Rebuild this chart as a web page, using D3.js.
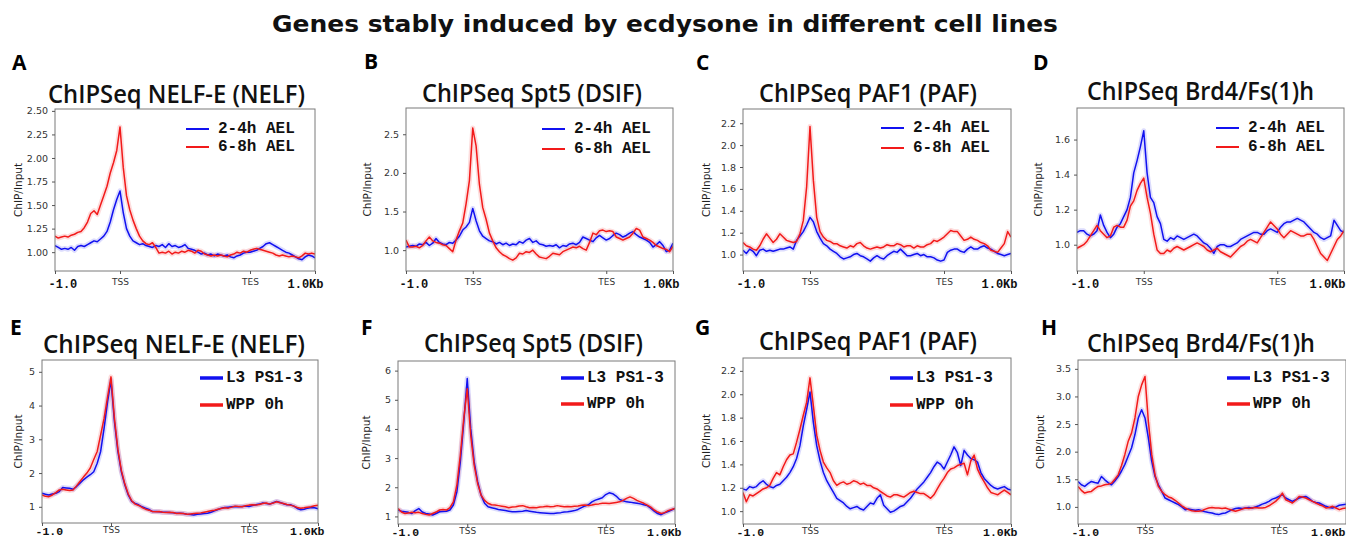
<!DOCTYPE html>
<html><head><meta charset="utf-8">
<script src="https://cdn.jsdelivr.net/npm/d3@7"></script>
<style>body{margin:0;background:#fff}svg{display:block}</style>
</head><body><svg id="c" width="1346" height="541"></svg>
<script>
// ---------------- DATA ----------------
const mainTitle = "Genes stably induced by ecdysone in different cell lines";
const panelLetters = ["A","B","C","D","E","F","G","H"];
const panelTitles = ["ChIPSeq NELF-E (NELF)","ChIPSeq Spt5 (DSIF)","ChIPSeq PAF1 (PAF)","ChIPSeq Brd4/Fs(1)h",
                     "ChIPSeq NELF-E (NELF)","ChIPSeq Spt5 (DSIF)","ChIPSeq PAF1 (PAF)","ChIPSeq Brd4/Fs(1)h"];
const yLabel = "ChIP/Input";
const xTickLabels = ["-1.0","TSS","TES","1.0Kb"];
const xTickPos = [0,1,3,4];          // upstream | scaled gene body | downstream
const binStep = 0.05;                // 81 bins over [0,4]
const legendEmbryo = ["2-4h AEL","6-8h AEL"];
const legendLarva  = ["L3 PS1-3","WPP 0h"];

const yTicksA = [1.00,1.25,1.50,1.75,2.00,2.25,2.50];
const yTicksB = [1.0,1.5,2.0,2.5];
const yTicksC = [1.0,1.2,1.4,1.6,1.8,2.0,2.2];
const yTicksD = [1.0,1.2,1.4,1.6];
const yTicksE = [1,2,3,4,5];
const yTicksF = [1,2,3,4,5,6];
const yTicksG = [1.0,1.2,1.4,1.6,1.8,2.0,2.2];
const yTicksH = [1.0,1.5,2.0,2.5,3.0,3.5];
const yRangeA = [0.80,2.52], yRangeB = [0.73,2.84], yRangeC = [0.85,2.33], yRangeD = [0.85,1.78];
const yRangeE = [0.52,5.35], yRangeF = [0.74,6.33], yRangeG = [0.89,2.31], yRangeH = [0.69,3.66];

// NELF-E embryo
const nelfE_2_4h = [1.07,1.05,1.03,1.04,1.03,1.05,1.02,1.06,1.07,1.06,
 1.08,1.10,1.12,1.11,1.14,1.17,1.22,1.32,1.45,1.56,
 1.65,1.42,1.25,1.17,1.12,1.10,1.08,1.09,1.07,1.06,
 1.05,1.07,1.06,1.08,1.05,1.09,1.06,1.07,1.05,1.06,
 1.08,1.04,1.03,1.02,1.00,0.98,0.99,0.97,0.98,0.96,
 0.98,0.97,0.96,0.97,0.95,0.94,0.96,0.97,0.99,1.00,
 1.00,1.01,1.02,1.04,1.06,1.09,1.10,1.08,1.06,1.04,
 1.02,1.00,0.99,0.97,0.95,0.93,0.92,0.95,0.97,0.96,0.94];
const nelfE_6_8h = [1.17,1.15,1.16,1.17,1.16,1.18,1.19,1.21,1.22,1.26,
 1.32,1.41,1.44,1.40,1.50,1.60,1.70,1.84,1.95,2.08,
 2.33,1.90,1.60,1.45,1.34,1.25,1.17,1.12,1.09,1.08,
 1.10,1.05,0.99,1.00,0.99,1.01,0.98,1.00,0.99,1.01,
 1.00,1.02,1.01,0.99,1.02,1.01,0.98,0.97,0.96,0.97,
 0.96,0.97,0.96,0.95,0.97,0.98,1.00,0.99,1.01,1.00,
 1.02,1.03,1.04,1.03,1.02,1.01,1.00,0.99,0.97,0.96,
 0.97,0.96,0.95,0.96,0.95,0.94,0.96,0.99,0.98,0.99,0.98];
// Spt5 embryo
const spt5_2_4h = [1.04,1.05,1.06,1.05,1.08,1.07,1.10,1.06,1.09,1.15,
 1.10,1.08,1.07,1.10,1.09,1.13,1.18,1.26,1.30,1.36,
 1.54,1.38,1.25,1.18,1.15,1.12,1.11,1.08,1.10,1.07,
 1.09,1.06,1.08,1.07,1.11,1.09,1.13,1.15,1.10,1.12,
 1.08,1.07,1.05,1.06,1.05,1.07,1.03,1.06,1.05,1.08,
 1.09,1.07,1.10,1.17,1.15,1.13,1.11,1.16,1.19,1.16,
 1.13,1.15,1.19,1.22,1.20,1.17,1.19,1.22,1.24,1.20,
 1.17,1.15,1.13,1.10,1.04,1.07,1.11,1.06,0.98,1.00,1.09];
const spt5_6_8h = [1.13,1.04,1.04,1.05,1.03,1.06,1.12,1.17,1.12,1.10,
 1.09,1.07,1.06,1.02,0.98,1.13,1.25,1.35,1.60,1.90,
 2.58,2.35,1.85,1.55,1.40,1.22,1.12,1.03,0.98,0.94,
 0.92,0.89,0.87,0.90,0.96,0.95,0.98,0.97,1.00,0.95,
 0.91,0.90,0.89,0.92,0.96,0.95,0.94,0.98,1.00,1.02,
 1.04,1.03,1.05,1.02,1.00,1.10,1.22,1.20,1.25,1.26,
 1.24,1.25,1.24,1.17,1.15,1.13,1.15,1.17,1.22,1.28,
 1.26,1.17,1.15,1.13,1.10,1.06,1.04,1.02,1.01,0.98,1.05];
// PAF1 embryo
const paf1_2_4h = [1.04,1.01,1.05,1.03,0.99,1.04,1.05,1.03,1.04,1.03,
 1.04,1.05,1.05,1.06,1.07,1.05,1.13,1.17,1.21,1.27,
 1.34,1.30,1.21,1.15,1.10,1.08,1.05,1.03,1.01,0.98,
 0.96,0.97,0.98,1.00,1.01,0.99,0.98,0.96,0.94,0.97,
 0.99,0.97,0.96,0.99,1.01,1.03,1.02,1.05,1.02,0.99,
 0.99,1.00,1.01,0.99,1.00,0.98,0.98,0.97,0.95,0.94,
 0.95,1.02,1.04,1.05,1.05,1.03,1.02,1.05,1.07,1.05,
 1.05,1.07,1.08,1.06,1.05,1.03,1.01,1.00,0.99,1.00,1.01];
const paf1_6_8h = [1.11,1.08,1.07,1.05,1.04,1.08,1.14,1.19,1.15,1.11,
 1.14,1.19,1.16,1.13,1.12,1.11,1.12,1.19,1.31,1.62,
 2.17,1.68,1.34,1.21,1.16,1.13,1.12,1.10,1.10,1.08,
 1.07,1.06,1.08,1.07,1.10,1.11,1.08,1.06,1.05,1.06,
 1.07,1.06,1.07,1.09,1.08,1.08,1.10,1.09,1.07,1.08,
 1.08,1.06,1.08,1.07,1.07,1.09,1.10,1.13,1.12,1.14,
 1.16,1.19,1.22,1.21,1.21,1.17,1.13,1.14,1.16,1.14,
 1.13,1.11,1.10,1.08,1.04,1.03,1.02,1.06,1.10,1.21,1.16];
// Brd4 embryo
const brd4_2_4h = [1.07,1.08,1.08,1.06,1.05,1.06,1.08,1.17,1.11,1.07,
 1.04,1.06,1.10,1.12,1.16,1.20,1.27,1.41,1.48,1.56,
 1.65,1.41,1.27,1.24,1.16,1.12,1.03,1.02,1.04,1.03,
 1.05,1.04,1.03,1.04,1.05,1.06,1.05,1.03,1.01,1.00,
 0.98,0.95,0.99,1.00,1.00,0.99,0.99,1.00,1.01,1.03,
 1.04,1.05,1.06,1.07,1.07,1.06,1.06,1.08,1.09,1.08,
 1.07,1.10,1.12,1.13,1.13,1.14,1.15,1.14,1.13,1.11,
 1.09,1.07,1.06,1.04,1.03,1.04,1.05,1.14,1.11,1.08,1.07];
const brd4_6_8h = [0.98,0.99,1.00,1.02,1.05,1.08,1.11,1.08,1.06,1.04,
 1.05,1.10,1.11,1.10,1.10,1.14,1.22,1.25,1.31,1.35,
 1.38,1.27,1.18,1.06,0.97,0.95,0.95,0.97,0.96,0.98,
 0.99,0.98,0.97,0.98,0.99,1.00,1.01,1.00,0.99,0.97,
 0.96,0.97,0.98,0.96,0.95,0.94,0.93,0.95,0.97,0.99,
 1.00,1.02,1.03,1.02,1.01,1.04,1.07,1.10,1.13,1.11,
 1.09,1.06,1.04,1.06,1.08,1.07,1.06,1.05,1.05,1.06,
 1.06,1.03,0.99,0.95,0.93,0.91,0.95,0.99,1.03,1.05,1.08];
// NELF-E larva
const nelfE_L3 = [1.40,1.37,1.35,1.38,1.40,1.45,1.57,1.56,1.55,1.52,
 1.60,1.70,1.80,1.88,1.95,2.04,2.29,2.64,3.33,4.11,
 4.75,3.52,2.64,2.04,1.65,1.35,1.16,1.10,1.06,1.00,
 0.96,0.92,0.86,0.86,0.85,0.84,0.84,0.83,0.82,0.81,
 0.81,0.80,0.78,0.77,0.76,0.78,0.79,0.80,0.81,0.84,
 0.88,0.92,0.96,0.98,0.99,1.00,1.01,1.00,1.01,1.02,
 1.01,1.04,1.06,1.08,1.11,1.10,1.08,1.12,1.16,1.13,
 1.09,1.06,1.06,1.02,0.95,0.91,0.93,0.96,0.98,0.97,0.94];
const nelfE_WPP = [1.35,1.31,1.30,1.35,1.42,1.50,1.52,1.50,1.48,1.50,
 1.62,1.75,1.88,2.00,2.15,2.40,2.64,3.13,3.62,4.25,
 4.85,3.62,2.70,2.08,1.68,1.38,1.18,1.08,1.04,0.98,
 0.93,0.90,0.86,0.85,0.86,0.84,0.83,0.84,0.83,0.80,
 0.81,0.80,0.78,0.79,0.80,0.81,0.82,0.84,0.86,0.88,
 0.90,0.93,0.95,0.97,0.96,0.99,1.02,1.01,1.00,1.03,
 1.05,1.06,1.05,1.07,1.10,1.11,1.08,1.11,1.15,1.12,
 1.10,1.07,1.05,1.02,0.98,0.96,0.97,0.99,1.00,1.03,1.05];
// Spt5 larva
const spt5_L3 = [1.22,1.18,1.16,1.14,1.10,1.20,1.27,1.15,1.10,1.08,
 1.05,1.10,1.16,1.17,1.18,1.22,1.39,1.84,2.87,4.24,
 5.73,4.01,2.87,2.19,1.73,1.45,1.33,1.30,1.27,1.24,
 1.22,1.20,1.18,1.16,1.16,1.17,1.18,1.20,1.18,1.16,
 1.14,1.13,1.12,1.11,1.10,1.10,1.12,1.13,1.15,1.16,
 1.18,1.20,1.24,1.30,1.36,1.40,1.50,1.56,1.60,1.64,
 1.75,1.81,1.78,1.70,1.58,1.54,1.50,1.49,1.47,1.45,
 1.43,1.40,1.37,1.28,1.18,1.10,1.06,1.12,1.17,1.22,1.27];
const spt5_WPP = [1.27,1.15,1.10,1.12,1.14,1.13,1.14,1.10,1.07,1.05,
 1.10,1.15,1.22,1.24,1.22,1.30,1.50,2.07,3.10,4.36,
 5.38,3.79,2.76,2.13,1.73,1.55,1.45,1.40,1.39,1.37,
 1.35,1.33,1.30,1.32,1.33,1.36,1.37,1.33,1.30,1.31,
 1.30,1.32,1.33,1.35,1.33,1.34,1.37,1.35,1.33,1.34,
 1.33,1.35,1.36,1.38,1.39,1.37,1.39,1.42,1.43,1.45,
 1.45,1.44,1.46,1.48,1.50,1.55,1.62,1.67,1.62,1.55,
 1.50,1.45,1.39,1.32,1.22,1.15,1.10,1.13,1.20,1.24,1.27];
// PAF1 larva
const paf1_L3 = [1.19,1.18,1.21,1.20,1.21,1.24,1.26,1.23,1.21,1.20,
 1.22,1.23,1.26,1.29,1.33,1.38,1.45,1.56,1.73,1.87,
 2.02,1.76,1.56,1.43,1.33,1.26,1.21,1.16,1.11,1.09,
 1.07,1.04,1.02,1.03,1.04,1.02,1.01,1.04,1.07,1.06,
 1.11,1.14,1.05,1.02,0.99,1.00,1.02,1.04,1.05,1.08,
 1.11,1.15,1.19,1.22,1.25,1.29,1.33,1.38,1.42,1.40,
 1.36,1.42,1.48,1.55,1.50,1.39,1.52,1.48,1.45,1.44,
 1.42,1.33,1.28,1.25,1.22,1.20,1.19,1.20,1.21,1.19,1.18];
const paf1_WPP = [1.16,1.08,1.14,1.13,1.15,1.17,1.19,1.20,1.22,1.28,
 1.33,1.31,1.38,1.44,1.48,1.49,1.59,1.70,1.82,1.93,
 2.14,1.90,1.65,1.52,1.42,1.37,1.33,1.26,1.22,1.24,
 1.25,1.23,1.24,1.26,1.25,1.23,1.24,1.22,1.22,1.20,
 1.19,1.17,1.15,1.13,1.12,1.14,1.14,1.13,1.12,1.14,
 1.16,1.17,1.16,1.15,1.15,1.13,1.11,1.14,1.19,1.24,
 1.28,1.33,1.36,1.37,1.39,1.40,1.41,1.31,1.43,1.48,
 1.36,1.30,1.25,1.20,1.16,1.15,1.14,1.16,1.18,1.16,1.14];
// Brd4 larva
const brd4_L3 = [1.46,1.40,1.37,1.42,1.46,1.44,1.43,1.55,1.49,1.44,
 1.40,1.47,1.55,1.65,1.77,1.92,2.07,2.31,2.61,2.76,
 2.61,2.25,1.83,1.55,1.40,1.28,1.16,1.13,1.10,1.07,
 1.04,1.00,0.95,0.96,0.95,0.94,0.95,0.93,0.91,0.90,
 0.89,0.87,0.86,0.88,0.89,0.92,0.95,0.97,0.98,0.97,
 0.98,0.99,0.98,1.00,1.02,1.05,1.07,1.10,1.14,1.16,
 1.19,1.22,1.16,1.13,1.10,1.13,1.16,1.18,1.19,1.15,
 1.10,1.08,1.07,1.04,1.01,0.99,0.98,1.00,1.03,1.04,1.05];
const brd4_WPP = [1.37,1.30,1.25,1.27,1.28,1.33,1.37,1.38,1.40,1.41,
 1.43,1.50,1.58,1.75,1.95,2.19,2.34,2.61,3.00,3.21,
 3.36,2.55,1.95,1.58,1.37,1.28,1.22,1.18,1.16,1.12,
 1.07,1.02,0.98,0.95,0.93,0.92,0.92,0.93,0.96,0.98,
 0.99,0.98,0.98,0.97,0.98,0.96,0.94,0.92,0.94,0.96,
 0.98,0.97,0.98,0.99,0.98,0.98,0.99,1.02,1.06,1.10,
 1.16,1.25,1.13,1.10,1.07,1.12,1.19,1.18,1.16,1.13,
 1.10,1.07,1.04,1.02,0.98,0.99,1.01,0.98,0.95,0.97,0.98];

// ---------------- LAYOUT / STYLE ----------------
const BLUE = "#1111f0", RED = "#f21a1a";
const layout = [
 {box:[55,109,315,271],   letter:[12,70],   title:[48,305,103],   legend:[186,129,147], ylab:-37, row:0, fmt:".2f", endPad:8},
 {box:[406,108,673,271],  letter:[364,69],  title:[422,642,102],  legend:[542,129,149], ylab:-39, row:0, fmt:".1f", endPad:6},
 {box:[743,109,1011,271], letter:[696,70],  title:[759,977,102],  legend:[881,128,148], ylab:-37, row:0, fmt:".1f", endPad:6},
 {box:[1077,108,1344,271],letter:[1033,70], title:[1087,1314,100],legend:[1216,128,147],ylab:-39, row:0, fmt:".1f", endPad:1},
 {box:[42,360,318,523],   letter:[10,335],  title:[43,305,353],   legend:[200,378,405], ylab:-24, row:1, fmt:"d",   endPad:6},
 {box:[398,361,675,524],  letter:[361,335], title:[424,643,352],  legend:[561,378,404], ylab:-32, row:1, fmt:"d",   endPad:6},
 {box:[743,358,1011,524], letter:[695,335], title:[759,977,350],  legend:[890,378,405], ylab:-37, row:1, fmt:".1f", endPad:6},
 {box:[1078,360,1346,524],letter:[1041,335],title:[1087,1315,352],legend:[1227,378,404],ylab:-38, row:1, fmt:".1f", endPad:-1},
];
const seriesPairs = [
 [nelfE_2_4h,nelfE_6_8h],[spt5_2_4h,spt5_6_8h],[paf1_2_4h,paf1_6_8h],[brd4_2_4h,brd4_6_8h],
 [nelfE_L3,nelfE_WPP],[spt5_L3,spt5_WPP],[paf1_L3,paf1_WPP],[brd4_L3,brd4_WPP]];
const yTicksAll = [yTicksA,yTicksB,yTicksC,yTicksD,yTicksE,yTicksF,yTicksG,yTicksH];
const yRangesAll = [yRangeA,yRangeB,yRangeC,yRangeD,yRangeE,yRangeF,yRangeG,yRangeH];

const svg = d3.select("#c");
svg.append("rect").attr("width",1346).attr("height",541).attr("fill","#fff");

svg.append("text").text(mainTitle)
  .attr("x",665).attr("y",32).attr("text-anchor","middle")
  .attr("font-family","DejaVu Sans").attr("font-weight","bold").attr("font-size",23)
  .attr("textLength",786).attr("lengthAdjust","spacingAndGlyphs").attr("fill","#111");

const defs = svg.append("defs");

layout.forEach((L,k)=>{
  const [x0,y0,x1,y1] = L.box;
  const g = svg.append("g");
  const xs = d3.scaleLinear().domain([0,4]).range([x0,x1]);
  const ys = d3.scaleLinear().domain(yRangesAll[k]).range([y1,y0]);

  g.append("text").text(panelLetters[k]).attr("x",L.letter[0]).attr("y",L.letter[1])
    .attr("font-family","Open Sans").attr("font-weight",700).attr("font-size",21).attr("fill","#000");
  g.append("text").text(panelTitles[k]).attr("x",L.title[0]).attr("y",L.title[2])
    .attr("font-family","Open Sans").attr("font-weight",600).attr("font-size",25)
    .attr("textLength",L.title[1]-L.title[0]).attr("lengthAdjust","spacingAndGlyphs").attr("fill","#111");

  const cid = "clip"+k;
  defs.append("clipPath").attr("id",cid).append("rect")
    .attr("x",x0).attr("y",y0).attr("width",x1-x0).attr("height",y1-y0);

  const names = L.row===0 ? legendEmbryo : legendLarva;
  const cols = [BLUE,RED];
  const line = d3.line().x((d,i)=>xs(i*binStep)).y(d=>ys(d));
  const pg = g.append("g").attr("clip-path",`url(#${cid})`);
  seriesPairs[k].forEach((s,j)=>{
    pg.append("path").attr("d",line(s)).attr("fill","none").attr("stroke",cols[j])
      .attr("stroke-width",5).attr("stroke-opacity",0.15).attr("stroke-linejoin","round");
  });
  seriesPairs[k].forEach((s,j)=>{
    pg.append("path").attr("d",line(s)).attr("fill","none").attr("stroke",cols[j])
      .attr("stroke-width",1.5).attr("stroke-linejoin","round");
  });

  g.append("rect").attr("x",x0).attr("y",y0).attr("width",x1-x0).attr("height",y1-y0)
    .attr("fill","none").attr("stroke","#7a7a7a").attr("stroke-width",1);

  const yAx = d3.axisLeft(ys).tickValues(yTicksAll[k]).tickFormat(d3.format(L.fmt)).tickSize(3).tickPadding(4);
  const ya = g.append("g").attr("transform",`translate(${x0},0)`).call(yAx);
  ya.select(".domain").remove();
  ya.selectAll("line").attr("stroke","#555");
  ya.selectAll("text").attr("font-family","DejaVu Sans").attr("font-size",9.5).attr("fill","#333");

  const xAx = d3.axisBottom(xs).tickValues(xTickPos).tickFormat((d,i)=>xTickLabels[i]).tickSize(3).tickPadding(L.row===0?5:1);
  const xa = g.append("g").attr("transform",`translate(0,${y1})`).call(xAx);
  xa.select(".domain").remove();
  xa.selectAll("line").attr("stroke","#555");
  xa.selectAll("text").each(function(d,i){
    const t = d3.select(this);
    if(i===0 || i===3){
      t.attr("font-family","Liberation Mono").attr("font-weight","bold").attr("font-size",L.row===0?12:11.5).attr("fill","#111");
      if(i===0) t.attr("text-anchor","start").attr("x",-7);
      else t.attr("text-anchor","end").attr("x",L.endPad);
    } else {
      t.attr("font-family","DejaVu Sans").attr("font-size",9).attr("fill","#333");
    }
  });

  g.append("text").text(yLabel)
    .attr("transform",`translate(${x0+L.ylab},${(y0+y1)/2}) rotate(-90)`)
    .attr("text-anchor","middle").attr("dominant-baseline","central")
    .attr("font-family","DejaVu Sans").attr("font-size",10.5).attr("fill","#222");

  const lx = L.legend[0];
  names.forEach((n,j)=>{
    const ly = L.legend[1+j];
    g.append("line").attr("x1",lx).attr("x2",lx+23).attr("y1",ly).attr("y2",ly)
      .attr("stroke",cols[j]).attr("stroke-width",L.row===0?2:3.5);
    g.append("text").text(n).attr("x",lx+(L.row===0?32:26)).attr("y",ly).attr("dominant-baseline","central")
      .attr("font-family","Liberation Mono").attr("font-weight","bold").attr("font-size",16).attr("fill","#111");
  });
});
</script>
</body></html>
